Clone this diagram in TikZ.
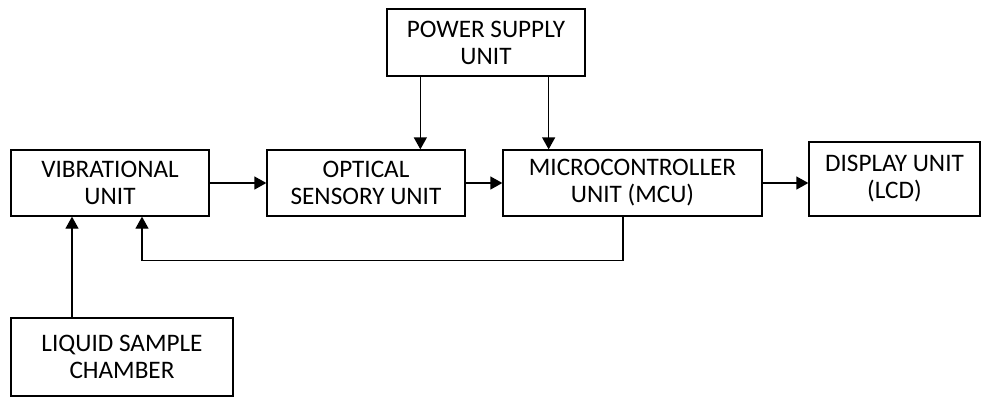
\documentclass[tikz,border=0pt]{standalone}
\usepackage{fontspec}
\setmainfont{Carlito}
\usetikzlibrary{arrows.meta}

\begin{document}
\begin{tikzpicture}[x=0.5pt, y=-0.5pt, >={Triangle[length=6pt,width=6.5pt]}, line width=0.65pt,
		block/.style={draw, rectangle, inner sep=0pt, align=center, font=\fontsize{12.6}{13.5}\selectfont}]
	\useasboundingbox (0,0) rectangle (981,397);
	
	% 1. 方框
	\node[block, minimum width=99pt, minimum height=33.5pt] (psu) at (486,42.5) {POWER SUPPLY\\UNIT};
	\node[block, minimum width=99pt, minimum height=33pt] (vib) at (110,183) {VIBRATIONAL\\UNIT};
	\node[block, minimum width=99pt, minimum height=33pt] (opt) at (366,183) {OPTICAL\\SENSORY UNIT};
	\node[block, minimum width=129.5pt, minimum height=33pt] (mcu) at (632.5,183) {MICROCONTROLLER\\UNIT (MCU)};
	\node[block, minimum width=85.5pt, minimum height=37pt] (disp) at (894.5,179) {DISPLAY UNIT\\(LCD)};
	\node[block, minimum width=111pt, minimum height=39pt] (liq) at (122,357) {LIQUID SAMPLE\\CHAMBER};
	
	% 2. 主信号通路
	\draw[->] (vib.east) -- (opt.west);
	\draw[->] (opt.east) -- (mcu.west);
	\draw[->] (mcu.east) -- (mcu.east -| disp.west);
	
	% 3. 电源
	\draw[->] ([xshift=17pt]psu.south west) -- ([xshift=17pt]psu.south west |- opt.north);
	\draw[->] ([xshift=-18.5pt]psu.south east) -- ([xshift=-18.5pt]psu.south east |- mcu.north);
	
	% 4. 反馈与样品
	\draw[->] ([xshift=-4.75pt]mcu.south) -- ++(0,44) -| ([xshift=16pt]vib.south);
	\draw[->] ([xshift=-25pt]liq.north) -- ([xshift=-25pt]liq.north |- vib.south);
\end{tikzpicture}
\end{document}
